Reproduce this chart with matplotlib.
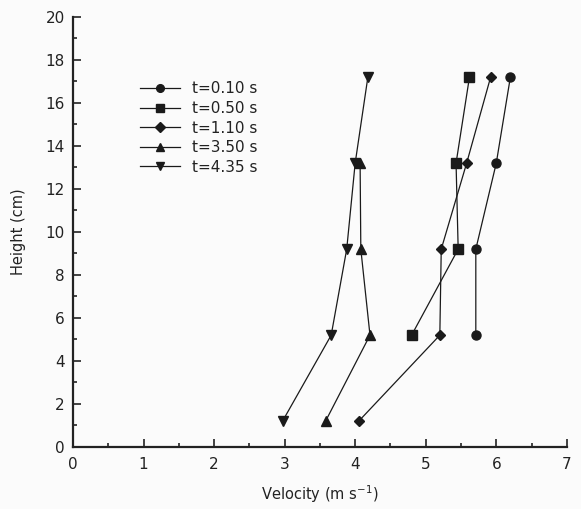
import matplotlib
matplotlib.use("Agg")
import matplotlib.pyplot as plt
from matplotlib.ticker import MultipleLocator

plt.rcParams['font.family'] = ['DejaVu Sans']

labels = ["t=0.10 s", "t=0.50 s", "t=1.10 s", "t=3.50 s", "t=4.35 s"]
markers = ["o", "s", "D", "^", "v"]

h_010 = [5.2, 9.2, 13.2, 17.2]
v_010 = [5.71, 5.71, 6.00, 6.20]
h_050 = [5.2, 9.2, 13.2, 17.2]
v_050 = [4.80, 5.46, 5.43, 5.62]
h_110 = [1.2, 5.2, 9.2, 13.2, 17.2]
v_110 = [4.05, 5.20, 5.22, 5.58, 5.92]
h_350 = [1.2, 5.2, 9.2, 13.2]
v_350 = [3.58, 4.21, 4.08, 4.07]
h_435 = [1.2, 5.2, 9.2, 13.2, 17.2]
v_435 = [2.97, 3.66, 3.88, 4.00, 4.18]

series = [(v_010, h_010), (v_050, h_050), (v_110, h_110), (v_350, h_350), (v_435, h_435)]
msizes = [6.5, 6.5, 5.5, 6.5, 6.5]

bg = '#fbfbfb'
fig = plt.figure(figsize=(5.81, 5.09), dpi=100, facecolor=bg)
ax = fig.add_axes([0.1256, 0.1218, 0.850, 0.845], facecolor=bg)

for (v, h), m, lab, ms in zip(series, markers, labels, msizes):
    ax.plot(v, h, color='#1a1a1a', lw=0.9, marker=m, ms=ms, mfc='#1a1a1a', mec='#1a1a1a', label=lab)

ax.set_xlim(0, 7)
ax.set_ylim(0, 20)
ax.xaxis.set_major_locator(MultipleLocator(1))
ax.xaxis.set_minor_locator(MultipleLocator(0.5))
ax.yaxis.set_major_locator(MultipleLocator(2))
ax.yaxis.set_minor_locator(MultipleLocator(1))
ax.tick_params(which='both', direction='in', colors='#222222', labelsize=11, width=1.2)
ax.tick_params(which='major', length=6)
ax.tick_params(which='minor', length=3)
ax.tick_params(axis='x', pad=7)
ax.tick_params(axis='y', pad=6)
ax.spines['top'].set_visible(False)
ax.spines['right'].set_visible(False)
for s in ['left', 'bottom']:
    ax.spines[s].set_linewidth(1.6)
    ax.spines[s].set_color('#222222')

ax.set_xlabel("Velocity (m s$^{-1}$)", fontsize=10.5, color='#222222', labelpad=8)
ax.set_ylabel("Height (cm)", fontsize=10.5, color='#222222', labelpad=14)

leg = ax.legend(loc='upper left', bbox_to_anchor=(0.115, 0.875), frameon=False,
                fontsize=11, handlelength=2.6, labelspacing=0.3, handletextpad=0.8,
                borderpad=0.2, markerscale=0.85)
for t in leg.get_texts():
    t.set_color('#222222')

fig.savefig("out.png", dpi=100, facecolor=bg)
